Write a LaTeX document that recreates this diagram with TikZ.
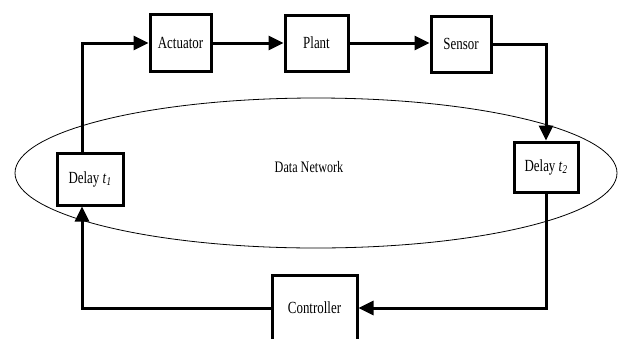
\documentclass[tikz,border=0pt]{standalone}
\usepackage{fontspec}
\setmainfont{Liberation Serif}
\usetikzlibrary{arrows.meta,calc}
\newcommand{\cond}[1]{\scalebox{0.76}[1]{#1}}
\begin{document}
\begin{tikzpicture}[x=1pt,y=-1pt,
  blk/.style={draw=black,line width=3pt,fill=white,inner sep=0pt,
    font=\fontsize{17}{17}\selectfont},
  conn/.style={line width=3pt},
  arr/.style={conn,-{Triangle[length=15pt,width=14pt]}},
  net/.style={line width=0.8pt}]
\clip (0,0) rectangle (620,338);
\fill[white] (0,0) rectangle (620,338);
% network ellipse
\draw[net] (316,173) ellipse [x radius=301, y radius=75];
\node[font=\fontsize{16}{16}\selectfont] (dn) at (309,167) {\cond{Data Network}};
% blocks
\node[blk,minimum width=61pt,minimum height=57pt] (act) at (180.5,43) {\cond{Actuator}};
\node[blk,minimum width=63pt,minimum height=56pt] (plant) at (316.5,43) {\cond{Plant}};
\node[blk,minimum width=60pt,minimum height=56pt] (sens) at (461,44) {\cond{Sensor}};
\node[blk,minimum width=66pt,minimum height=52pt] (d1) at (90,179) {\cond{Delay \textit{t}\textsubscript{\textit{1}}}};
\node[blk,minimum width=64pt,minimum height=50pt] (d2) at (546,167) {\cond{Delay \textit{t}\textsubscript{\textit{2}}}};
\node[blk,minimum width=85pt,minimum height=66pt] (ctrl) at (314.5,308) {\cond{Controller}};
% connectors
\draw[arr] ($(d1.north)+(-8,0)$) |- (act.west);
\draw[arr] (act.east) -- (plant.west);
\draw[arr] (plant.east) -- (plant.east -| sens.west);
\draw[arr] (sens.east) -| (d2.north);
\draw[arr] (d2.south) |- (ctrl.east);
\draw[arr] (ctrl.west) -| ($(d1.south)+(-8,0)$);
\end{tikzpicture}
\end{document}
